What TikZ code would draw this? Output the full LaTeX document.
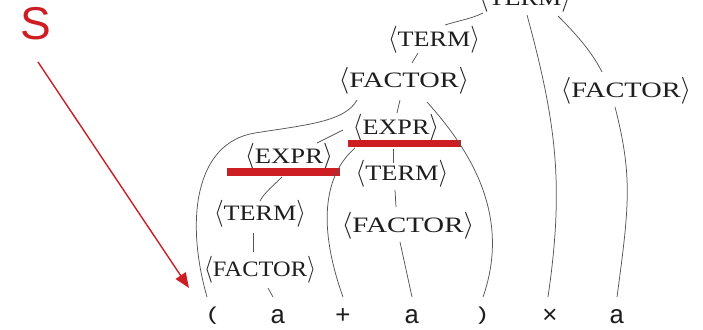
\documentclass[tikz,border=0pt]{standalone}
\usepackage{graphicx}
\usepackage{fontspec}
\setmainfont{Liberation Serif}
\newfontfamily\sansS{Liberation Sans}
\newfontfamily\monoT{Liberation Mono}
\usetikzlibrary{arrows.meta,calc}
\definecolor{redc}{RGB}{205,30,35}
\definecolor{edgec}{RGB}{85,85,85}
\definecolor{labc}{RGB}{30,30,30}
\newcommand{\bkt}[1]{\scalebox{1}[1.3]{$#1$}}
\newcommand{\ntm}[2]{\scalebox{#1}[1]{\bkt{\langle}#2\bkt{\rangle}}}
\newcommand{\smp}[1]{\raisebox{2.5pt}{\scalebox{1}[0.72]{#1}}}
\tikzset{
  lab/.style={inner sep=0pt, text=labc, font=\fontsize{22}{22}\selectfont},
  tok/.style={inner sep=0pt, anchor=base, text=labc, font=\monoT\fontsize{26}{26}\selectfont},
  edge/.style={draw=edgec, line width=0.75pt},
  redbar/.style={fill=redc, draw=none}
}
\begin{document}
\begin{tikzpicture}[x=1pt,y=-1pt]
\useasboundingbox (0,0) rectangle (703,329);
\clip (0,0) rectangle (703,329);
% nonterminal labels
\node[lab] (tT) at (525,-1) {\ntm{1.19}{TERM}};
\node[lab] (t2) at (434,40) {\ntm{1.19}{TERM}};
\node[lab] (fA) at (404,81) {\ntm{1.29}{FACTOR}};
\node[lab] (fR) at (626,91) {\ntm{1.29}{FACTOR}};
\node[lab] (eR) at (396,128) {\ntm{1.19}{EXPR}};
\node[lab] (eL) at (289,157) {\ntm{1.21}{EXPR}};
\node[lab] (tM) at (402,174) {\ntm{1.2}{TERM}};
\node[lab] (fM) at (408,226) {\ntm{1.31}{FACTOR}};
\node[lab] (tL) at (260,214) {\ntm{1.19}{TERM}};
\node[lab] (fL) at (260,270) {\ntm{1.11}{FACTOR}};
% tokens
\node[tok] (lp) at (213,323) {\smp{(}};
\node[tok] (a1) at (278,323) {a};
\node[tok] (pl) at (343,323) {+};
\node[tok] (a2) at (412,323) {a};
\node[tok] (rp) at (482,323) {\smp{)}};
\node[tok] (ti) at (550,323) {×};
\node[tok] (a3) at (617,323) {a};
% red bars
\fill[redbar] (227,168) rectangle (340,176);
\fill[redbar] (348,140) rectangle (461,147);
% edges
\draw[edge] ([shift={(-42,14)}]tT.center) .. controls +(-12,6) and +(12,-4) .. ([shift={(11,-15)}]t2.center);
\draw[edge] ([shift={(2,16)}]tT.center) .. controls +(30,110) and +(16,-110) .. ([shift={(-2,-26)}]ti.base);
\draw[edge] ([shift={(33,17)}]tT.center) .. controls +(18,18) and +(-10,-20) .. ([shift={(-24,-19)}]fR.center);
\draw[edge] ([shift={(-16,13)}]t2.center) -- ([shift={(8,-18)}]fA.center);
\draw[edge] ([shift={(-11,16)}]fR.center) .. controls +(18,70) and +(12,-90) .. ([shift={(0,-26)}]a3.base);
\draw[edge] ([shift={(-47,19)}]fA.center) .. controls +(-12,22) and +(50,-8) .. ++(-102,33)
   .. controls +(-60,9.6) and +(-22,-77) .. ([shift={(-6,-26)}]lp.base);
\draw[edge] ([shift={(-4,19)}]fA.center) -- ([shift={(1,-15)}]eR.center);
\draw[edge] ([shift={(23,21)}]fA.center) .. controls +(45,50) and +(28,-80) .. ([shift={(1,-26)}]rp.base);
\draw[edge] ([shift={(-53,2)}]eR.center) -- ([shift={(28,-14)}]eL.center);
\draw[edge] ([shift={(-41,20)}]eR.center) .. controls +(-32,28) and +(-25,-70) .. ([shift={(0,-26)}]pl.base);
\draw[edge] ([shift={(-3,21)}]eR.center) -- ([shift={(-9,-11)}]tM.center);
\draw[edge] ([shift={(-7,16)}]tM.center) -- ([shift={(-12,-19)}]fM.center);
\draw[edge] ([shift={(-8,16)}]fM.center) -- ([shift={(0,-26)}]a2.base);
\draw[edge] ([shift={(-7,20)}]eL.center) .. controls +(-8,8) and +(4,-8) .. ([shift={(0,-13)}]tL.center);
\draw[edge] ([shift={(-7,19)}]tL.center) -- ([shift={(-7,-18)}]fL.center);
\draw[edge] ([shift={(8,18)}]fL.center) -- ([shift={(-5,-26)}]a1.base);
% red S and arrow
\node[inner sep=0pt, anchor=base, text=redc, font=\sansS\fontsize{46}{46}\selectfont] (S) at (36,40) {S};
\coordinate (sTail) at (38,62);
\coordinate (sTip) at (189,288);
\draw[redc, line width=1.4pt, -{Triangle[length=15pt,width=12pt]}] (sTail) -- (sTip);
\end{tikzpicture}
\end{document}
